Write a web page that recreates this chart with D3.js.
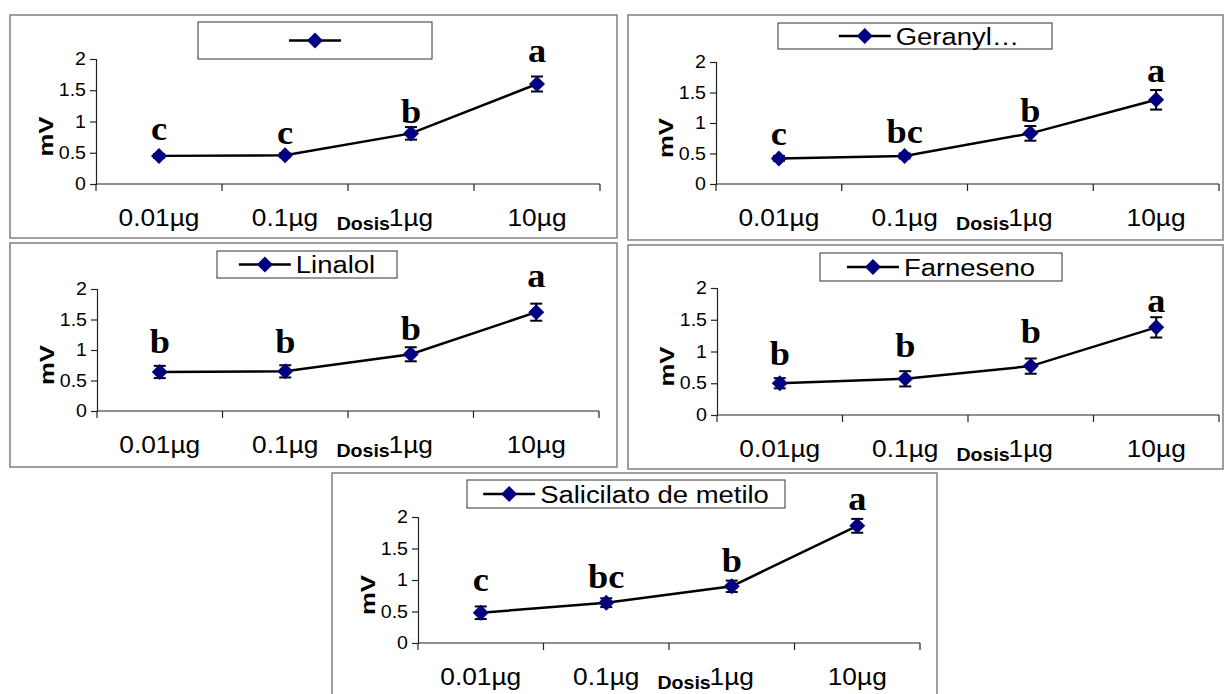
<!DOCTYPE html>
<html><head><meta charset="utf-8">
<script src="https://cdn.jsdelivr.net/npm/d3@7"></script>
<style>body{margin:0;background:#fff;overflow:hidden}</style>
</head><body>
<svg id="c" width="1225" height="694"></svg>
<script>
// ---------- data ----------
const categories = ["0.01µg", "0.1µg", "1µg", "10µg"];
const yTickValues = [0, 0.5, 1, 1.5, 2];
const yDomain = [0, 2];
const xTitle = "Dosis";
const yTitle = "mV";
const seriesNames = ["", "Geranyl…", "Linalol", "Farneseno", "Salicilato de metilo"];

const values1 = [0.45, 0.46, 0.81, 1.60];
const errors1 = [0.03, 0.03, 0.10, 0.12];
const letters1 = ["c", "c", "b", "a"];
const letterAt1 = [0.70, 0.64, 0.97, 1.95];

const values2 = [0.42, 0.46, 0.83, 1.38];
const errors2 = [0.04, 0.04, 0.12, 0.16];
const letters2 = ["c", "bc", "b", "a"];
const letterAt2 = [0.64, 0.68, 1.02, 1.68];

const values3 = [0.64, 0.65, 0.93, 1.62];
const errors3 = [0.10, 0.10, 0.115, 0.14];
const letters3 = ["b", "b", "b", "a"];
const letterAt3 = [0.95, 0.95, 1.17, 2.04];

const values4 = [0.50, 0.57, 0.77, 1.38];
const errors4 = [0.08, 0.12, 0.12, 0.16];
const letters4 = ["b", "b", "b", "a"];
const letterAt4 = [0.79, 0.92, 1.13, 1.62];

const values5 = [0.48, 0.64, 0.90, 1.86];
const errors5 = [0.10, 0.07, 0.09, 0.11];
const letters5 = ["c", "bc", "b", "a"];
const letterAt5 = [0.83, 0.88, 1.12, 2.11];

const panelsData = [
  {name: seriesNames[0], values: values1, errors: errors1, letters: letters1, letterAt: letterAt1},
  {name: seriesNames[1], values: values2, errors: errors2, letters: letters2, letterAt: letterAt2},
  {name: seriesNames[2], values: values3, errors: errors3, letters: letters3, letterAt: letterAt3},
  {name: seriesNames[3], values: values4, errors: errors4, letters: letters4, letterAt: letterAt4},
  {name: seriesNames[4], values: values5, errors: errors5, letters: letters5, letterAt: letterAt5}
];

// ---------- layout (pixels) ----------
const layouts = [
  {frame: [10, 15, 617, 238],  plot: [96, 600, 59, 184],   legend: [198, 22, 432, 59], legendShift: 0},
  {frame: [628, 15, 1223, 240], plot: [716, 1219, 62, 184], legend: [778, 23, 1052, 49], legendShift: 14},
  {frame: [10, 243, 617, 467], plot: [97, 599, 289, 411],  legend: [217, 251, 397, 278], legendShift: 0},
  {frame: [628, 245, 1223, 469], plot: [717, 1219, 288, 415], legend: [820, 253, 1062, 281], legendShift: 0},
  {frame: [332, 473, 937, 702], plot: [418, 920, 517, 643], legend: [467, 480, 785, 508], legendShift: 0}
];

const SX = 1.12; // horizontal stretch of text in the reference
const sans = "'Liberation Sans', Arial, sans-serif";
const serif = "'Liberation Serif', 'Times New Roman', serif";
const svg = d3.select("#c");

function txt(g, x, y, s, o) {
  return g.append("text")
    .attr("transform", `translate(${x},${y}) scale(${o.sx || SX},1)`)
    .attr("text-anchor", o.anchor || "start")
    .attr("font-family", o.family || sans)
    .attr("font-size", o.size)
    .attr("font-weight", o.weight || "normal")
    .attr("fill", "#000")
    .text(s);
}

const diamond = "M0,-8L8,0L0,8L-8,0Z";
const markerFill = "#000080";

panelsData.forEach((p, i) => {
  const L = layouts[i];
  const g = svg.append("g");
  const [fx0, fy0, fx1, fy1] = L.frame;
  g.append("rect").attr("x", fx0).attr("y", fy0).attr("width", fx1 - fx0).attr("height", fy1 - fy0)
    .attr("fill", "#fff").attr("stroke", "#808080").attr("stroke-width", 1.5);

  const [px0, px1, pyTop, pyBot] = L.plot;
  const x = d3.scaleBand().domain(categories).range([px0, px1]).padding(0);
  const y = d3.scaleLinear().domain(yDomain).range([pyBot, pyTop]);

  // y axis
  const yAxis = d3.axisLeft(y).tickValues(yTickValues).tickSize(6).tickFormat(d3.format("~g"));
  const ya = g.append("g").attr("transform", `translate(${px0},0)`).call(yAxis);
  ya.select(".domain").attr("stroke", "#222").attr("stroke-width", 1.2);
  ya.selectAll(".tick line").attr("stroke", "#222").attr("stroke-width", 1.2);
  ya.selectAll(".tick text").remove();
  yTickValues.forEach(v => txt(g, px0 - 10, y(v) + 6.2, d3.format("~g")(v), {anchor: "end", size: 17.5}));

  // x axis (ticks at category boundaries)
  g.append("line").attr("x1", px0).attr("x2", px1).attr("y1", pyBot).attr("y2", pyBot)
    .attr("stroke", "#222").attr("stroke-width", 1.2);
  const bounds = categories.map(c => x(c)).concat([x(categories[categories.length - 1]) + x.bandwidth()]);
  g.selectAll(".xt").data(bounds).enter().append("line")
    .attr("x1", d => d).attr("x2", d => d).attr("y1", pyBot).attr("y2", pyBot + 7)
    .attr("stroke", "#222").attr("stroke-width", 1.2);
  categories.forEach(c => txt(g, x(c) + x.bandwidth() / 2, pyBot + 42, c, {anchor: "middle", size: 23.5}));

  // axis titles
  txt(g, x(categories[2]) + x.bandwidth() / 2 - 21, pyBot + 46, xTitle, {anchor: "end", size: 17.5, weight: "bold"});
  g.append("text")
    .attr("transform", `translate(${px0 - 43},${(pyTop + pyBot) / 2 + 15}) rotate(-90) scale(1.28,1.05)`)
    .attr("text-anchor", "middle").attr("font-family", sans).attr("font-weight", "bold")
    .attr("font-size", 20).text(yTitle);

  // legend
  const [lx0, ly0, lx1, ly1] = L.legend;
  g.append("rect").attr("x", lx0).attr("y", ly0).attr("width", lx1 - lx0).attr("height", ly1 - ly0)
    .attr("fill", "#fff").attr("stroke", "#333").attr("stroke-width", 1);
  const lcy = (ly0 + ly1) / 2;
  const lineLen = 52, gap = 5;
  const lt = txt(g, 0, 0, p.name, {size: 24.5});
  const tw = p.name ? lt.node().getBBox().width * SX : 0;
  const total = lineLen + (p.name ? gap + tw : 0);
  const sx0 = (lx0 + lx1) / 2 - total / 2 + L.legendShift;
  g.append("line").attr("x1", sx0).attr("x2", sx0 + lineLen).attr("y1", lcy).attr("y2", lcy)
    .attr("stroke", "#000").attr("stroke-width", 2.5);
  g.append("path").attr("d", diamond).attr("transform", `translate(${sx0 + lineLen / 2},${lcy})`).attr("fill", markerFill);
  lt.attr("transform", `translate(${sx0 + lineLen + gap},${lcy + 8.8}) scale(${SX},1)`);

  // series
  const pts = categories.map((c, k) => ({cx: x(c) + x.bandwidth() / 2, v: p.values[k], e: p.errors[k], l: p.letters[k], la: p.letterAt[k]}));
  const line = d3.line().x(d => d.cx).y(d => y(d.v));
  g.append("path").datum(pts).attr("d", line).attr("fill", "none").attr("stroke", "#000").attr("stroke-width", 2.5);
  pts.forEach(d => {
    g.append("line").attr("x1", d.cx).attr("x2", d.cx).attr("y1", y(d.v - d.e)).attr("y2", y(d.v + d.e)).attr("stroke", "#000").attr("stroke-width", 2);
    [d.v - d.e, d.v + d.e].forEach(v => g.append("line").attr("x1", d.cx - 6).attr("x2", d.cx + 6).attr("y1", y(v)).attr("y2", y(v)).attr("stroke", "#000").attr("stroke-width", 2));
    g.append("path").attr("d", diamond).attr("transform", `translate(${d.cx},${y(d.v)})`).attr("fill", markerFill);
    txt(g, d.cx, y(d.la), d.l, {anchor: "middle", size: 33, weight: "bold", family: serif, sx: 1.1});
  });
});
</script>
</body></html>
